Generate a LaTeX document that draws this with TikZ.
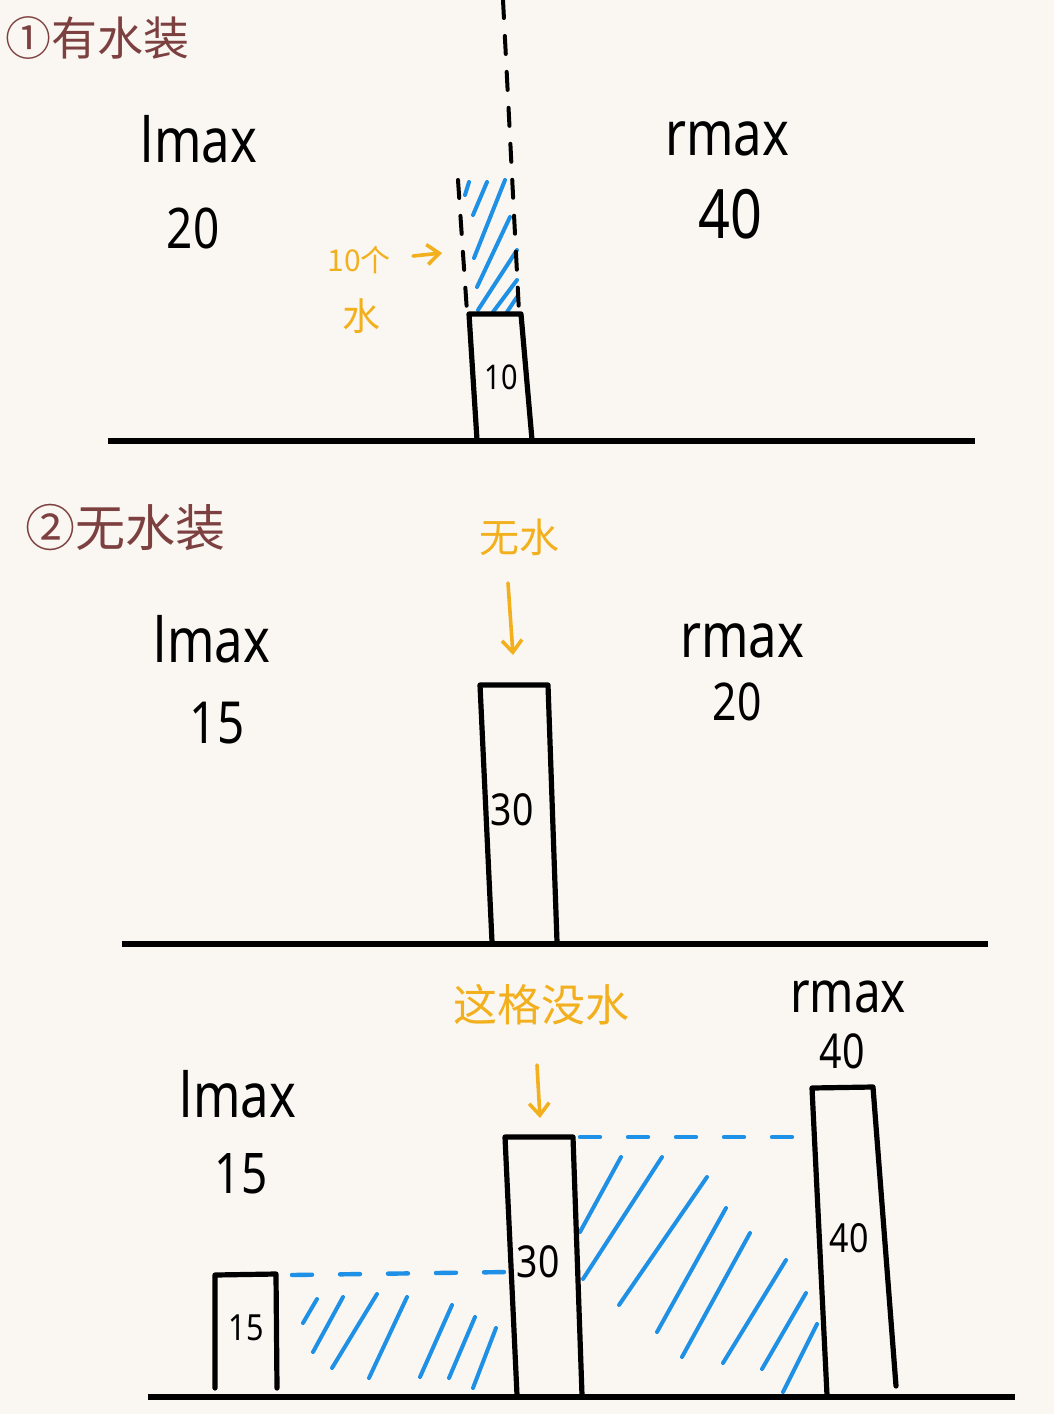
\documentclass[tikz,border=0pt]{standalone}
\usepackage{fontspec}
\usetikzlibrary{arrows.meta}
\setmainfont{Noto Sans}
\newfontfamily\cjkf{Noto Sans CJK SC}
\newfontfamily\handf{Noto Sans}
\definecolor{bgc}{RGB}{250,247,242}
\definecolor{tred}{RGB}{125,64,64}
\definecolor{orng}{RGB}{242,176,30}
\definecolor{wblue}{RGB}{30,144,230}
\newcommand{\fsz}[1]{\fontsize{#1}{#1}\selectfont}
\tikzset{
  barline/.style={draw=black, line width=2.6pt, line join=round, line cap=round},
  groundline/.style={draw=black, line width=2.8pt},
  hatchline/.style={draw=wblue, line width=2pt, line cap=round},
  waterlevel/.style={draw=wblue, line width=2.2pt, line cap=round, dash pattern=on 10pt off 14pt},
  bdash/.style={draw=black, line width=2pt, line cap=round, dash pattern=on 9pt off 9pt},
  titletext/.style={text=tred, anchor=west, inner sep=0pt},
  notetext/.style={text=orng, inner sep=0pt},
  handtext/.style={text=black, anchor=base, inner sep=0pt, xscale=0.82},
  barlabel/.style={text=black, inner sep=0pt, xscale=0.85},
  arrowline/.style={draw=orng, line width=1.8pt, line cap=round, -{Straight Barb[length=6pt,width=10pt,line width=1.8pt]}}
}
\begin{document}
\begin{tikzpicture}[x=0.5pt,y=-0.5pt]
\fill[bgc] (0,0) rectangle (1054,1414);
\useasboundingbox (0,0) rectangle (1054,1414);

% ---------------- Panel 1 ----------------
\node[titletext, font=\cjkf\fsz{23}] (t1) at (5,38) {①有水装};
\node[handtext, font=\handf\fsz{31}] (l1) at (199,162) {lmax};
\node[handtext, font=\handf\fsz{28}] (l1v) at (193,248) {20};
\node[handtext, font=\handf\fsz{31}] (r1) at (727,155) {rmax};
\node[handtext, font=\handf\fsz{34}] (r1v) at (730,238) {40};

% hatching (water above bar)
\foreach \a/\b/\c/\d in {465/195/469/182, 473/215/487/182, 474/258/505/180, 477/287/510/217, 478/310/517/250, 493/312/517/280, 507/312/517/297}
  \draw[hatchline] (\a,\b) -- (\c,\d);
% dashed guides
\coordinate (d1a) at (458,180);
\coordinate (d1b) at (467,312);
\coordinate (d2a) at (503,0);
\coordinate (d2b) at (519,312);
\draw[bdash] (d1a) -- (d1b);
\draw[bdash] (d2a) -- (d2b);
% bar 10
\draw[barline] (477,440) -- (469,314) -- (521,314) -- (532,440);
\node[barlabel, font=\handf\fsz{17}] (b10) at (501,377) {10};
% note
\node[notetext, font=\cjkf\fsz{15}] (n1) at (359,260) {10个};
\node[notetext, font=\cjkf\fsz{19}] (n1b) at (361,316) {水};
\coordinate (a1s) at (413,256);
\coordinate (a1e) at (442,253);
\draw[arrowline] (a1s) -- (a1e);
% ground
\coordinate (g1a) at (108,441);
\coordinate (g1b) at (975,441);
\draw[groundline] (g1a) -- (g1b);

% ---------------- Panel 2 ----------------
\node[titletext, font=\cjkf\fsz{25}] (t2) at (25,527) {②无水装};
\node[notetext, font=\cjkf\fsz{20}] (n2) at (519,537) {无水};
\coordinate (a2s) at (508,583);
\coordinate (a2e) at (513,655);
\draw[arrowline] (a2s) -- (a2e);
\node[handtext, font=\handf\fsz{31}] (l2) at (212,662) {lmax};
\node[handtext, font=\handf\fsz{29}] (l2v) at (217,743) {15};
\node[handtext, font=\handf\fsz{31}] (r2) at (742,657) {rmax};
\node[handtext, font=\handf\fsz{26}] (r2v) at (737,720) {20};
\draw[barline] (492,942) -- (480,685) -- (548,685) -- (557,942);
\node[barlabel, font=\handf\fsz{22}] (b30a) at (512,810) {30};
\coordinate (g2a) at (122,944);
\coordinate (g2b) at (988,944);
\draw[groundline] (g2a) -- (g2b);

% ---------------- Panel 3 ----------------
\node[notetext, font=\cjkf\fsz{22}] (n3) at (541,1005) {这格没水};
\coordinate (a3s) at (537,1065);
\coordinate (a3e) at (540,1118);
\draw[arrowline] (a3s) -- (a3e);
\node[handtext, font=\handf\fsz{29}] (r3) at (848,1012) {rmax};
\node[handtext, font=\handf\fsz{24}] (r3v) at (842,1068) {40};
\node[handtext, font=\handf\fsz{31}] (l3) at (238,1117) {lmax};
\node[handtext, font=\handf\fsz{28}] (l3v) at (241,1193) {15};

% hatching
\foreach \a/\b/\c/\d in {303/1323/317/1299, 313/1352/343/1297, 332/1368/377/1294, 369/1378/407/1297, 420/1377/452/1305, 449/1378/475/1317, 473/1388/496/1328,
  580/1232/621/1157, 583/1279/662/1157, 619/1305/707/1177, 657/1332/726/1208, 682/1357/750/1233, 723/1363/786/1260, 762/1369/806/1293, 783/1392/817/1324}
  \draw[hatchline] (\a,\b) -- (\c,\d);
% water levels
\coordinate (w1a) at (292,1275);
\coordinate (w1b) at (508,1272);
\coordinate (w2a) at (580,1137);
\coordinate (w2b) at (812,1137);
\draw[waterlevel] (w1a) -- (w1b);
\draw[waterlevel] (w2a) -- (w2b);
% bars
\draw[barline] (215,1388) -- (215,1275) -- (276,1274) -- (277,1388);
\node[barlabel, font=\handf\fsz{18}] (b15) at (246,1328) {15};
\draw[barline] (517,1395) -- (505,1137) -- (573,1137) -- (582,1395);
\node[barlabel, font=\handf\fsz{22}] (b30b) at (538,1262) {30};
\draw[barline] (827,1395) -- (812,1088) -- (873,1087) -- (896,1386);
\node[barlabel, font=\handf\fsz{20}] (b40) at (849,1238) {40};
\coordinate (g3a) at (148,1397);
\coordinate (g3b) at (1015,1397);
\draw[groundline] (g3a) -- (g3b);
\end{tikzpicture}
\end{document}
